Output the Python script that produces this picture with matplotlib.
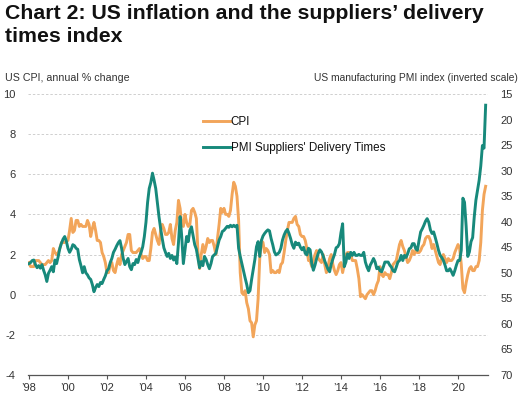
import matplotlib
matplotlib.use("Agg")
import matplotlib.pyplot as plt
import numpy as np

plt.rcParams['font.family'] = ['Liberation Sans', 'DejaVu Sans']

# monthly data, Jan 1998 .. Jun 2021
start_year = 1998

# US CPI, annual % change
cpi = [
    1.6, 1.4, 1.4, 1.4, 1.7, 1.7, 1.7, 1.6, 1.5, 1.5, 1.5, 1.6,    # 1998
    1.7, 1.6, 1.7, 2.3, 2.1, 2.0, 2.1, 2.3, 2.6, 2.6, 2.6, 2.7,    # 1999
    2.7, 3.2, 3.8, 3.1, 3.2, 3.7, 3.7, 3.4, 3.5, 3.4, 3.4, 3.4,    # 2000
    3.7, 3.5, 2.9, 3.3, 3.6, 3.2, 2.7, 2.7, 2.6, 2.1, 1.9, 1.6,    # 2001
    1.1, 1.1, 1.5, 1.6, 1.2, 1.1, 1.5, 1.8, 1.5, 2.0, 2.2, 2.4,    # 2002
    2.6, 3.0, 3.0, 2.2, 2.1, 2.1, 2.1, 2.2, 2.3, 2.0, 1.8, 1.9,    # 2003
    1.9, 1.7, 1.7, 2.3, 3.1, 3.3, 3.0, 2.7, 2.5, 3.2, 3.5, 3.3,    # 2004
    3.0, 3.0, 3.1, 3.5, 2.8, 2.5, 3.2, 3.6, 4.7, 4.3, 3.5, 3.4,    # 2005
    4.0, 3.6, 3.4, 3.5, 4.2, 4.3, 4.1, 3.8, 2.1, 1.3, 2.0, 2.5,    # 2006
    2.1, 2.4, 2.8, 2.6, 2.7, 2.7, 2.4, 2.0, 2.8, 3.5, 4.3, 4.1,    # 2007
    4.3, 4.0, 4.0, 3.9, 4.2, 5.0, 5.6, 5.4, 4.9, 3.7, 1.1, 0.1,    # 2008
    0.0, 0.2, -0.4, -0.7, -1.3, -1.4, -2.1, -1.5, -1.3, -0.2, 1.8, 2.7,  # 2009
    2.6, 2.1, 2.3, 2.2, 2.0, 1.1, 1.2, 1.1, 1.1, 1.2, 1.1, 1.5,    # 2010
    1.6, 2.1, 2.7, 3.2, 3.6, 3.6, 3.6, 3.8, 3.9, 3.5, 3.4, 3.0,    # 2011
    2.9, 2.9, 2.7, 2.3, 1.7, 1.7, 1.4, 1.7, 2.0, 2.2, 1.8, 1.7,    # 2012
    1.6, 2.0, 1.5, 1.1, 1.4, 1.8, 2.0, 1.5, 1.2, 1.0, 1.2, 1.5,    # 2013
    1.6, 1.1, 1.5, 2.0, 2.1, 2.1, 2.0, 1.7, 1.7, 1.7, 1.3, 0.8,    # 2014
    -0.1, 0.0, -0.1, -0.2, 0.0, 0.1, 0.2, 0.2, 0.0, 0.2, 0.5, 0.7,  # 2015
    1.4, 1.0, 0.9, 1.1, 1.0, 1.0, 0.8, 1.1, 1.5, 1.6, 1.7, 2.1,    # 2016
    2.5, 2.7, 2.4, 2.2, 1.9, 1.6, 1.7, 1.9, 2.2, 2.0, 2.2, 2.1,    # 2017
    2.1, 2.2, 2.4, 2.5, 2.8, 2.9, 2.9, 2.7, 2.3, 2.5, 2.2, 1.9,    # 2018
    1.6, 1.5, 1.9, 2.0, 1.8, 1.6, 1.8, 1.7, 1.7, 1.8, 2.1, 2.3,    # 2019
    2.5, 2.3, 1.5, 0.3, 0.1, 0.6, 1.0, 1.3, 1.4, 1.2, 1.2, 1.4,    # 2020
    1.4, 1.7, 2.6, 4.2, 5.0, 5.4,                                  # 2021
]

# PMI suppliers' delivery times index (plotted on inverted right scale)
pmi = [
    48.2, 48.0, 47.6, 47.5, 48.4, 49.0, 48.6, 49.1, 48.4, 49.5, 50.4, 51.7,  # 1998
    50.1, 49.5, 48.8, 49.8, 47.5, 48.2, 46.8, 45.2, 44.2, 43.4, 42.9, 43.8,  # 1999
    45.2, 46.0, 45.4, 44.5, 44.7, 45.2, 45.4, 47.4, 48.6, 50.0, 48.8, 50.0,  # 2000
    50.4, 51.0, 51.3, 52.3, 53.7, 52.9, 52.3, 52.7, 51.9, 52.1, 51.3, 50.6,  # 2001
    49.6, 49.2, 48.0, 47.2, 46.0, 45.4, 44.7, 44.1, 43.7, 45.2, 47.2, 48.4,  # 2002
    47.8, 47.2, 48.8, 49.4, 48.2, 48.4, 47.4, 48.0, 46.8, 46.0, 44.9, 42.9,  # 2003
    40.1, 36.2, 33.5, 32.3, 30.5, 31.9, 33.5, 36.2, 39.0, 41.3, 43.3, 45.1,  # 2004
    46.0, 46.8, 46.2, 47.2, 46.6, 47.5, 46.9, 48.2, 44.1, 39.0, 42.9, 48.2,  # 2005
    45.5, 42.9, 43.9, 41.7, 41.0, 42.7, 44.5, 45.4, 47.2, 49.0, 47.8, 48.6,  # 2006
    46.8, 47.4, 48.4, 49.2, 48.2, 46.8, 46.5, 46.2, 44.9, 43.6, 42.9, 41.9,  # 2007
    41.7, 41.3, 40.9, 41.1, 40.7, 41.0, 40.7, 41.0, 40.7, 45.2, 46.8, 48.2,  # 2008
    49.6, 51.0, 52.3, 53.9, 53.5, 51.3, 49.4, 47.4, 44.9, 43.9, 46.8, 43.7,  # 2009
    42.8, 42.3, 41.9, 41.6, 41.8, 43.3, 44.5, 45.9, 46.5, 46.3, 46.0, 45.2,  # 2010
    43.6, 42.6, 41.9, 41.5, 42.3, 43.3, 44.5, 45.2, 44.0, 44.5, 44.2, 45.0,  # 2011
    45.5, 45.0, 46.2, 46.5, 45.2, 45.5, 48.2, 49.5, 48.5, 47.2, 46.2, 45.5,  # 2012
    45.9, 46.7, 47.7, 48.5, 49.3, 49.8, 48.3, 47.3, 46.4, 45.1, 44.9, 44.3,  # 2013
    42.1, 40.4, 48.8, 47.9, 46.3, 47.2, 46.0, 46.6, 46.0, 46.6, 46.6, 46.4,  # 2014
    46.6, 46.6, 46.0, 47.9, 48.9, 49.6, 48.5, 47.9, 47.2, 47.9, 49.2, 48.9,  # 2015
    49.6, 49.8, 48.9, 47.9, 47.9, 47.9, 48.5, 48.9, 49.6, 49.8, 48.9, 47.9,  # 2016
    47.6, 46.6, 47.6, 46.6, 47.0, 46.3, 45.3, 45.1, 44.3, 44.3, 45.3, 45.6,  # 2017
    43.7, 42.0, 41.4, 40.7, 39.9, 39.4, 40.1, 41.6, 42.3, 42.0, 43.1, 44.3,  # 2018
    45.6, 46.6, 47.0, 47.6, 48.5, 49.6, 49.6, 49.2, 49.8, 50.5, 49.6, 48.5,  # 2019
    47.6, 47.6, 45.6, 35.4, 36.2, 40.9, 46.8, 45.9, 43.9, 43.1, 39.0, 35.8,  # 2020
    33.9, 31.9, 29.1, 25.1, 25.6, 17.2,                                      # 2021
]

xtick_years = list(range(1998, 2021, 2))
xtick_labels = ['\u2019%02d' % (y % 100) for y in xtick_years]
left_ticks = [-4, -2, 0, 2, 4, 6, 8, 10]
right_ticks = list(range(15, 71, 5))

orange = '#f2a55a'
teal = '#17897b'
txt = '#333333'

x = start_year + np.arange(len(cpi)) / 12.0

fig = plt.figure(figsize=(5.24, 3.99), dpi=100)
ax = fig.add_axes([0.0534, 0.0602, 0.878, 0.7043])
ax2 = ax.twinx()

ax.plot(x, cpi, color=orange, lw=2.1, label='CPI', solid_joinstyle='round')
ax2.plot(x, pmi, color=teal, lw=2.1, label='PMI Suppliers\' Delivery Times',
         solid_joinstyle='round')

ax.set_xlim(1997.95, 2021.54)
ax.set_ylim(-4, 10)
ax2.set_ylim(70, 15)

ax.set_yticks(left_ticks)
ax.set_yticklabels([str(v) for v in left_ticks])
ax2.set_yticks(right_ticks)
ax.set_xticks(xtick_years)
ax.set_xticklabels(xtick_labels)

for v in left_ticks[1:]:
    ax.axhline(v, color='#cfcfcf', lw=0.7, ls=(0, (2.5, 2)), zorder=0)

for a in (ax, ax2):
    for s in ('top', 'left', 'right', 'bottom'):
        a.spines[s].set_visible(False)
ax.spines['bottom'].set_visible(True)
ax.spines['bottom'].set_color('#555555')
ax.spines['bottom'].set_linewidth(0.9)

ax.tick_params(axis='y', length=0, pad=9, labelsize=8, labelcolor=txt)
ax2.tick_params(axis='y', length=0, pad=9, labelsize=8, labelcolor=txt)
ax.tick_params(axis='x', length=3, width=0.8, color='#555555', pad=3,
               labelsize=8, labelcolor=txt)

h1, l1 = ax.get_legend_handles_labels()
h2, l2 = ax2.get_legend_handles_labels()
ax2.legend(h1 + h2, l1 + l2, loc='upper left', bbox_to_anchor=(0.38, 0.92),
           frameon=False, fontsize=8.4, handlelength=2.3, handletextpad=0.1,
           labelspacing=1.2, borderpad=0, borderaxespad=0, labelcolor='#111111')

fig.text(5 / 524, 1 - 4 / 399, 'Chart 2: US inflation and the suppliers\u2019 delivery\ntimes index',
         ha='left', va='top', fontsize=15.3, fontweight='bold', color='#111111',
         linespacing=1.27)
fig.text(5 / 524, 1 - 81 / 399, 'US CPI, annual % change', ha='left', va='baseline',
         fontsize=7.7, color=txt)
fig.text(518 / 524, 1 - 81 / 399, 'US manufacturing PMI index (inverted scale)',
         ha='right', va='baseline', fontsize=7.4, color=txt)

fig.savefig('out.png', dpi=100)
